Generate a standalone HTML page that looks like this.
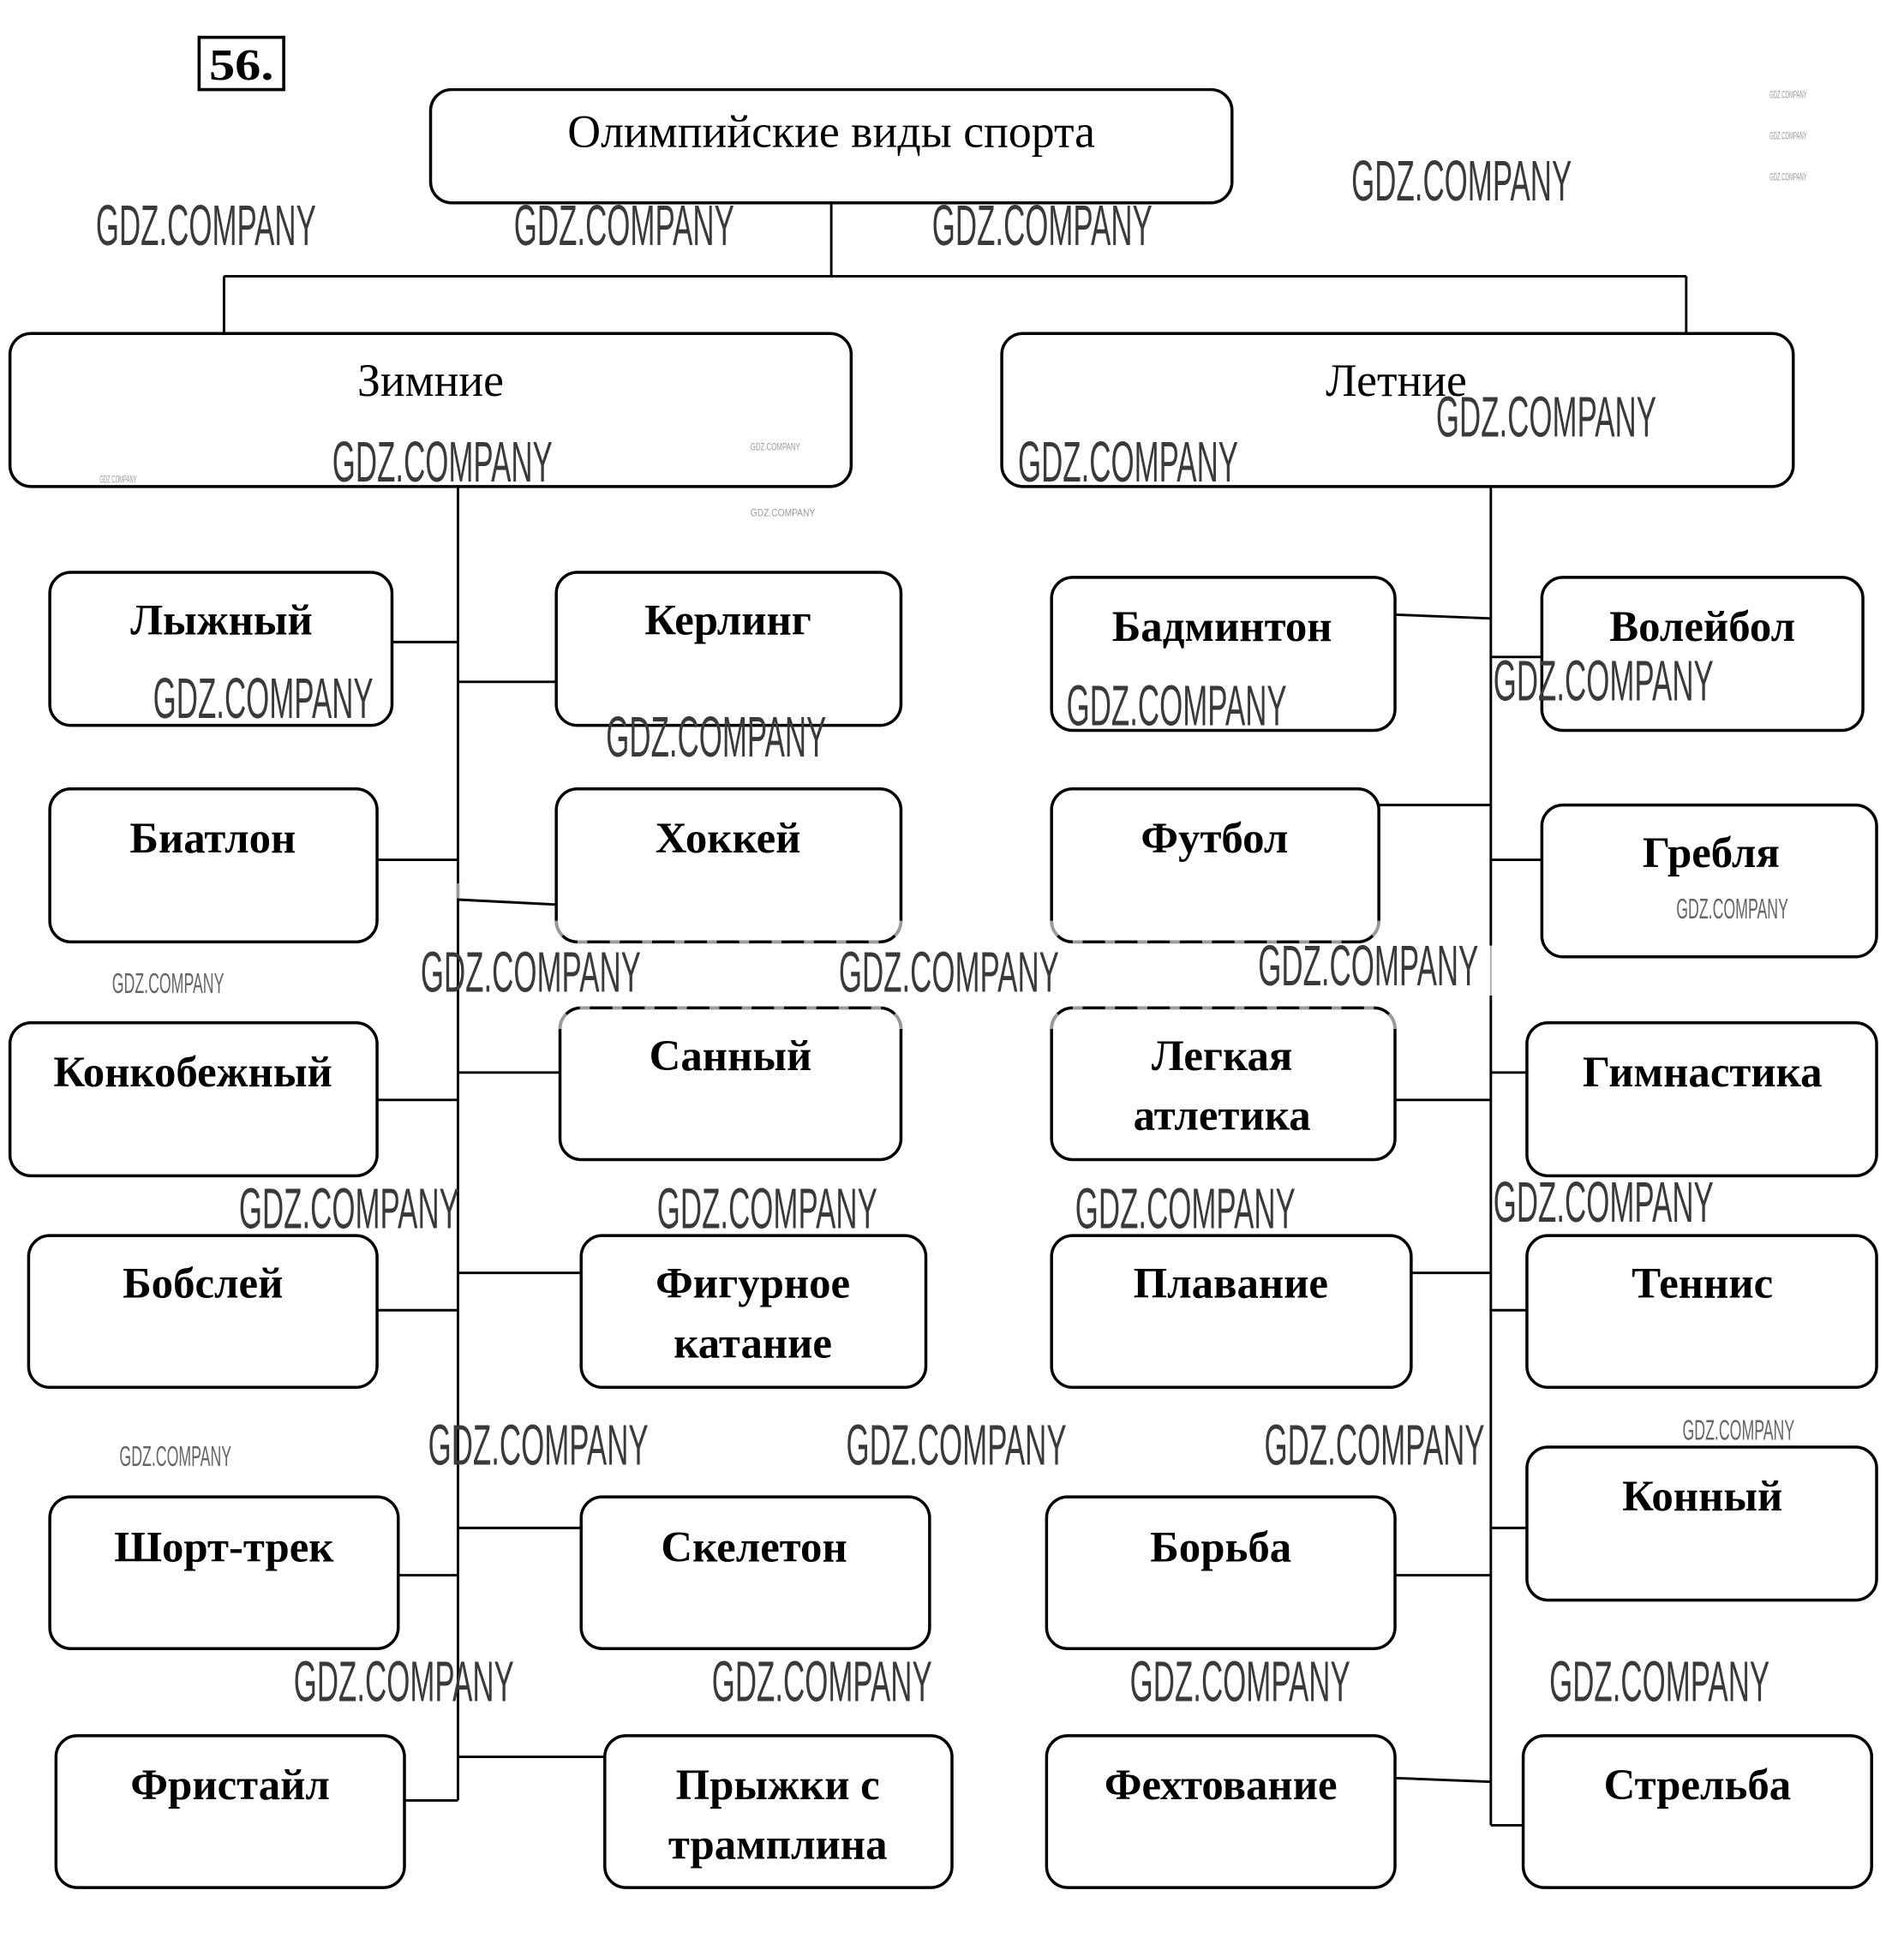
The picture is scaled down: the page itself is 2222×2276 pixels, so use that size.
<!DOCTYPE html>
<html><head><meta charset="utf-8">
<style>
html,body{margin:0;padding:0;background:#fff;}
svg{display:block;}
.b{fill:none;stroke:#000;stroke-width:2.4;}
.l{fill:none;stroke:#000;stroke-width:2;}
.t{font-family:"Liberation Serif","DejaVu Serif",serif;font-size:35px;font-weight:bold;text-anchor:middle;fill:#000;}
.h{font-family:"Liberation Serif","DejaVu Serif",serif;font-size:37px;text-anchor:middle;fill:#000;}
.w{font-family:"Liberation Sans","DejaVu Sans",sans-serif;font-size:46px;fill:#3a3a3a;}
.ws{font-family:"Liberation Sans","DejaVu Sans",sans-serif;font-size:23px;fill:#666;}
.wt{font-family:"Liberation Sans","DejaVu Sans",sans-serif;font-size:8px;fill:#999;}
</style></head>
<body>
<svg width="2222" height="2276" viewBox="0 0 1530 1567.2" xmlns="http://www.w3.org/2000/svg">
<rect x="0" y="0" width="1530" height="1567.2" fill="#fff"/>
<!-- number -->
<rect x="160" y="30" width="68" height="42" fill="none" stroke="#000" stroke-width="2.5"/>
<text x="168" y="64" font-family="Liberation Serif, serif" font-size="36" font-weight="bold" textLength="52" lengthAdjust="spacingAndGlyphs">56.</text>

<!-- connectors -->
<path class="l" d="M668 163V222M180 222H1355M180 222V268M1355 222V268"/>
<path class="l" d="M368 391V1447M1198 391V1467"/>
<path class="l" d="M315 516H368M303 691H368M303 884H368M303 1053H368M320 1266H368M325 1447H368"/>
<path class="l" d="M368 548H447M368 723L447 727M368 862H450M368 1023H467M368 1228H467M368 1412H486"/>
<path class="l" d="M1121 494L1198 497M1108 647H1198M1121 884H1198M1134 1023H1198M1121 1266H1198M1121 1429L1198 1432"/>
<path class="l" d="M1198 528H1239M1198 691H1239M1198 862H1227M1198 1053H1227M1198 1228H1227M1198 1467H1224"/>

<!-- top boxes -->
<rect class="b" x="346" y="72" width="644" height="91" rx="17"/>
<rect class="b" x="8" y="268" width="676" height="123" rx="17"/>
<rect class="b" x="805" y="268" width="636" height="123" rx="17"/>
<text class="h" x="668" y="118" textLength="424" lengthAdjust="spacingAndGlyphs">Олимпийские виды спорта</text>
<text class="h" x="346" y="318">Зимние</text>
<text class="h" x="1122" y="318">Летние</text>

<!-- winter left -->
<rect class="b" x="40" y="460" width="275" height="123" rx="17"/>
<rect class="b" x="40" y="634" width="263" height="123" rx="17"/>
<rect class="b" x="8" y="822" width="295" height="123" rx="17"/>
<rect class="b" x="23" y="993" width="280" height="122" rx="17"/>
<rect class="b" x="40" y="1203" width="280" height="122" rx="17"/>
<rect class="b" x="45" y="1395" width="280" height="122" rx="17"/>
<text class="t" x="178" y="510">Лыжный</text>
<text class="t" x="171" y="685">Биатлон</text>
<text class="t" x="155" y="873">Конкобежный</text>
<text class="t" x="163" y="1043">Бобслей</text>
<text class="t" x="180" y="1255">Шорт-трек</text>
<text class="t" x="185" y="1446">Фристайл</text>

<!-- winter right -->
<rect class="b" x="447" y="460" width="277" height="123" rx="17"/>
<rect class="b" x="447" y="634" width="277" height="123" rx="17"/>
<rect class="b" x="450" y="810" width="274" height="122" rx="17"/>
<rect class="b" x="467" y="993" width="277" height="122" rx="17"/>
<rect class="b" x="467" y="1203" width="280" height="122" rx="17"/>
<rect class="b" x="486" y="1395" width="279" height="122" rx="17"/>
<text class="t" x="585" y="510">Керлинг</text>
<text class="t" x="585" y="685">Хоккей</text>
<text class="t" x="587" y="860">Санный</text>
<text class="t" x="605" y="1043">Фигурное</text>
<text class="t" x="605" y="1091">катание</text>
<text class="t" x="606" y="1255">Скелетон</text>
<text class="t" x="625" y="1446">Прыжки с</text>
<text class="t" x="625" y="1494">трамплина</text>

<!-- summer left -->
<rect class="b" x="845" y="464" width="276" height="123" rx="17"/>
<rect class="b" x="845" y="634" width="263" height="123" rx="17"/>
<rect class="b" x="845" y="810" width="276" height="122" rx="17"/>
<rect class="b" x="845" y="993" width="289" height="122" rx="17"/>
<rect class="b" x="841" y="1203" width="280" height="122" rx="17"/>
<rect class="b" x="841" y="1395" width="280" height="122" rx="17"/>
<text class="t" x="982" y="515">Бадминтон</text>
<text class="t" x="976" y="685">Футбол</text>
<text class="t" x="982" y="860">Легкая</text>
<text class="t" x="982" y="908">атлетика</text>
<text class="t" x="989" y="1043">Плавание</text>
<text class="t" x="981" y="1255">Борьба</text>
<text class="t" x="981" y="1446">Фехтование</text>

<!-- summer right -->
<rect class="b" x="1239" y="464" width="258" height="123" rx="17"/>
<rect class="b" x="1239" y="647" width="269" height="122" rx="17"/>
<rect class="b" x="1227" y="822" width="281" height="123" rx="17"/>
<rect class="b" x="1227" y="993" width="281" height="122" rx="17"/>
<rect class="b" x="1227" y="1163" width="281" height="123" rx="17"/>
<rect class="b" x="1224" y="1395" width="280" height="122" rx="17"/>
<text class="t" x="1368" y="515">Волейбол</text>
<text class="t" x="1375" y="697">Гребля</text>
<text class="t" x="1368" y="873">Гимнастика</text>
<text class="t" x="1368" y="1043">Теннис</text>
<text class="t" x="1368" y="1214">Конный</text>
<text class="t" x="1364" y="1446">Стрельба</text>

<!-- watermark breaks on borders (gray segments) -->
<g fill="none" stroke="#9a9a9a" stroke-width="2.6" stroke-dasharray="8 18" stroke-dashoffset="-4">
<path d="M460 757H712M462 810H712M858 757H1096M858 810H1108"/>
</g>
<g fill="none" stroke="#9a9a9a" stroke-width="2.6">
<path d="M447 740A17 17 0 0 0 452 752M724 740A17 17 0 0 1 719 752M450 827A17 17 0 0 1 455 815M724 827A17 17 0 0 0 719 815"/>
<path d="M845 740A17 17 0 0 0 850 752M1108 740A17 17 0 0 1 1103 752M845 827A17 17 0 0 1 850 815M1121 827A17 17 0 0 0 1116 815"/>
<path d="M368 710V722"/>
</g>
<path d="M1198 760V800" stroke="#fff" stroke-width="3"/>
<path d="M1198 760V800" stroke="#aaa" stroke-width="1.2"/>

<!-- watermarks -->
<g class="w">
<text x="77" y="197" textLength="177" lengthAdjust="spacingAndGlyphs">GDZ.COMPANY</text>
<text x="413" y="197" textLength="177" lengthAdjust="spacingAndGlyphs">GDZ.COMPANY</text>
<text x="749" y="197" textLength="177" lengthAdjust="spacingAndGlyphs">GDZ.COMPANY</text>
<text x="1086" y="161" textLength="177" lengthAdjust="spacingAndGlyphs">GDZ.COMPANY</text>
<text x="267" y="387" textLength="177" lengthAdjust="spacingAndGlyphs">GDZ.COMPANY</text>
<text x="818" y="387" textLength="177" lengthAdjust="spacingAndGlyphs">GDZ.COMPANY</text>
<text x="1154" y="351" textLength="177" lengthAdjust="spacingAndGlyphs">GDZ.COMPANY</text>
<text x="123" y="577" textLength="177" lengthAdjust="spacingAndGlyphs">GDZ.COMPANY</text>
<text x="487" y="608" textLength="177" lengthAdjust="spacingAndGlyphs">GDZ.COMPANY</text>
<text x="857" y="583" textLength="177" lengthAdjust="spacingAndGlyphs">GDZ.COMPANY</text>
<text x="1200" y="563" textLength="177" lengthAdjust="spacingAndGlyphs">GDZ.COMPANY</text>
<text x="338" y="797" textLength="177" lengthAdjust="spacingAndGlyphs">GDZ.COMPANY</text>
<text x="674" y="797" textLength="177" lengthAdjust="spacingAndGlyphs">GDZ.COMPANY</text>
<text x="1011" y="792" textLength="177" lengthAdjust="spacingAndGlyphs">GDZ.COMPANY</text>
<text x="192" y="987" textLength="177" lengthAdjust="spacingAndGlyphs">GDZ.COMPANY</text>
<text x="528" y="987" textLength="177" lengthAdjust="spacingAndGlyphs">GDZ.COMPANY</text>
<text x="864" y="987" textLength="177" lengthAdjust="spacingAndGlyphs">GDZ.COMPANY</text>
<text x="1200" y="982" textLength="177" lengthAdjust="spacingAndGlyphs">GDZ.COMPANY</text>
<text x="344" y="1177" textLength="177" lengthAdjust="spacingAndGlyphs">GDZ.COMPANY</text>
<text x="680" y="1177" textLength="177" lengthAdjust="spacingAndGlyphs">GDZ.COMPANY</text>
<text x="1016" y="1177" textLength="177" lengthAdjust="spacingAndGlyphs">GDZ.COMPANY</text>
<text x="236" y="1367" textLength="177" lengthAdjust="spacingAndGlyphs">GDZ.COMPANY</text>
<text x="572" y="1367" textLength="177" lengthAdjust="spacingAndGlyphs">GDZ.COMPANY</text>
<text x="908" y="1367" textLength="177" lengthAdjust="spacingAndGlyphs">GDZ.COMPANY</text>
<text x="1245" y="1367" textLength="177" lengthAdjust="spacingAndGlyphs">GDZ.COMPANY</text>
</g>
<g class="ws">
<text x="90" y="798" textLength="90" lengthAdjust="spacingAndGlyphs">GDZ.COMPANY</text>
<text x="96" y="1178" textLength="90" lengthAdjust="spacingAndGlyphs">GDZ.COMPANY</text>
<text x="1347" y="738" textLength="90" lengthAdjust="spacingAndGlyphs">GDZ.COMPANY</text>
<text x="1352" y="1157" textLength="90" lengthAdjust="spacingAndGlyphs">GDZ.COMPANY</text>
</g>
<g class="wt">
<text x="603" y="362" textLength="40" lengthAdjust="spacingAndGlyphs">GDZ.COMPANY</text>
<text x="603" y="415" textLength="52" lengthAdjust="spacingAndGlyphs">GDZ.COMPANY</text>
<text x="80" y="388" textLength="30" lengthAdjust="spacingAndGlyphs">GDZ.COMPANY</text>
<text x="1422" y="79" textLength="30" lengthAdjust="spacingAndGlyphs">GDZ.COMPANY</text>
<text x="1422" y="112" textLength="30" lengthAdjust="spacingAndGlyphs">GDZ.COMPANY</text>
<text x="1422" y="145" textLength="30" lengthAdjust="spacingAndGlyphs">GDZ.COMPANY</text>
</g>
</svg>
</body></html>
